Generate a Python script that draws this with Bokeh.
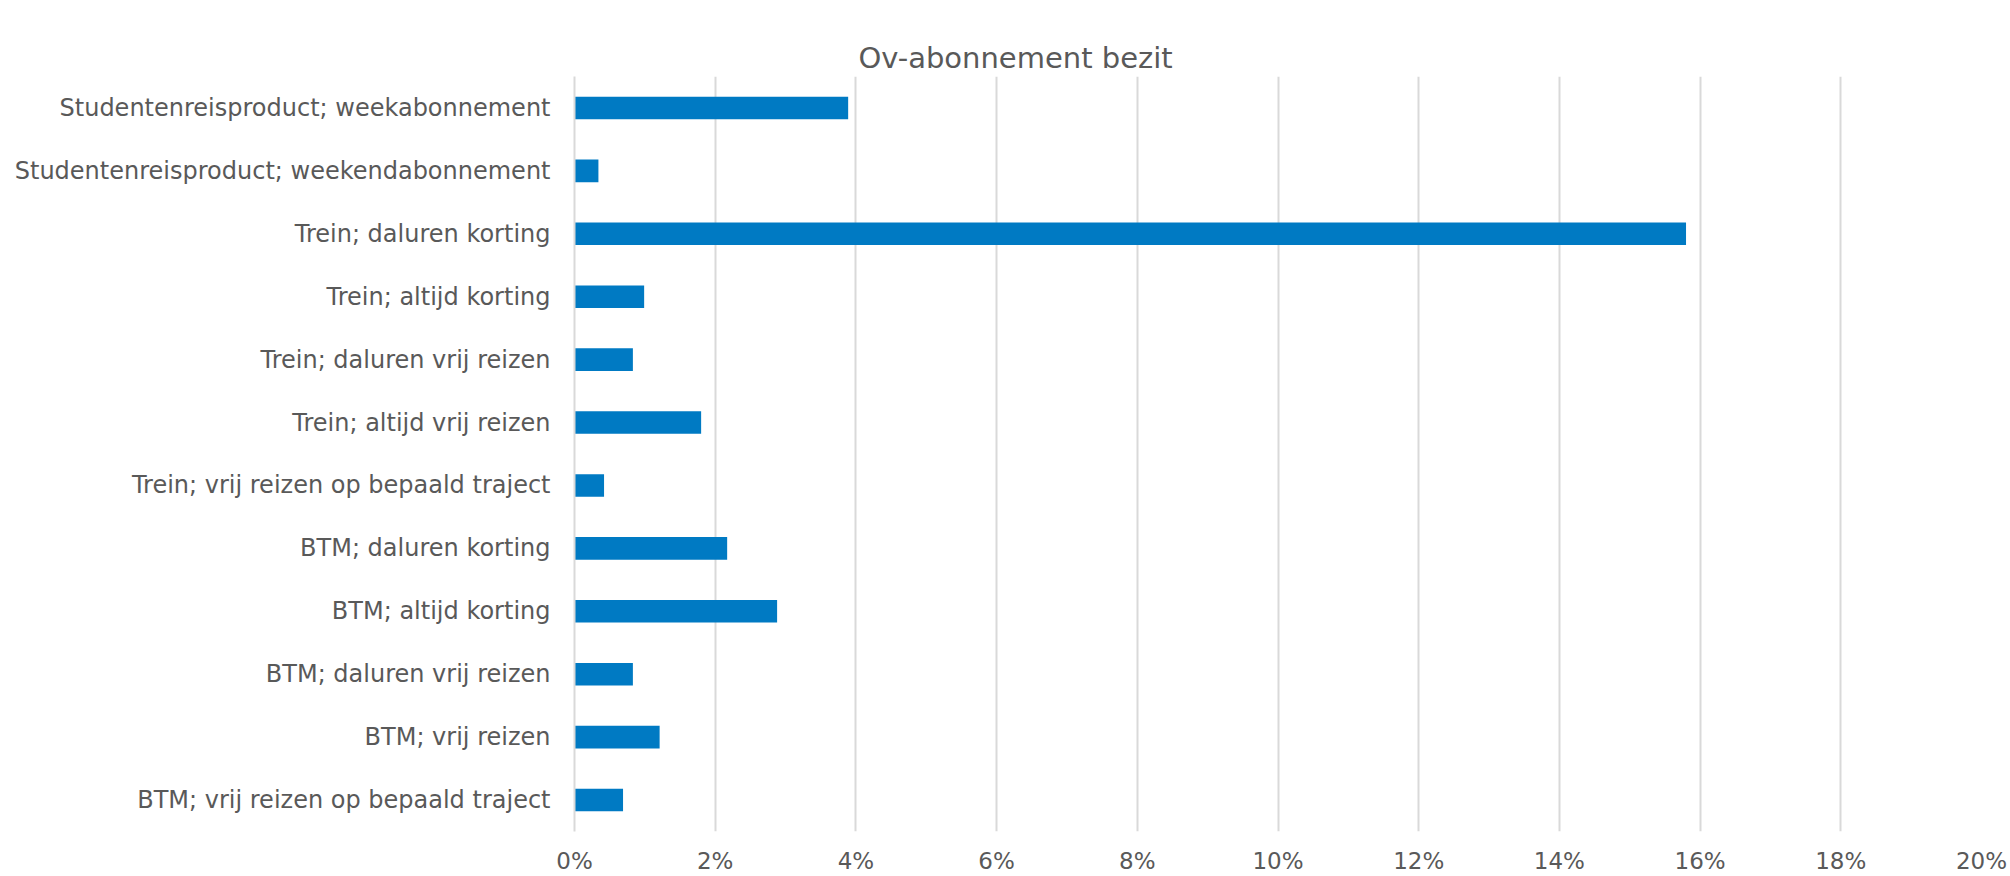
from bokeh.plotting import figure
from bokeh.models import Range1d, FixedTicker, PrintfTickFormatter, Title
from bokeh.embed import file_html
from bokeh.resources import INLINE

title_text = "Ov-abonnement bezit"
categories = [
    "Studentenreisproduct; weekabonnement",
    "Studentenreisproduct; weekendabonnement",
    "Trein; daluren korting",
    "Trein; altijd korting",
    "Trein; daluren vrij reizen",
    "Trein; altijd vrij reizen",
    "Trein; vrij reizen op bepaald traject",
    "BTM; daluren korting",
    "BTM; altijd korting",
    "BTM; daluren vrij reizen",
    "BTM; vrij reizen",
    "BTM; vrij reizen op bepaald traject",
]
values_pct = [3.89, 0.34, 15.80, 0.99, 0.83, 1.80, 0.42, 2.17, 2.88, 0.83, 1.21, 0.69]
x_ticks = [0, 2, 4, 6, 8, 10, 12, 14, 16, 18, 20]

FONT = "DejaVu Sans"
TEXT = "#595959"
GRID = "#d9d9d9"

p = figure(
    width=2010, height=876,
    y_range=list(reversed(categories)),
    x_range=Range1d(0, 20),
    output_backend="svg", toolbar_location=None,
    min_border_left=574, min_border_right=29,
    min_border_top=76, min_border_bottom=44,
)
p.hbar(y=categories, right=values_pct, left=0, height=0.36,
       fill_color="#007AC3", line_color=None)

main_title = Title(text=title_text, text_font=FONT, text_font_size="29px",
                   text_font_style="normal", text_color=TEXT,
                   align="left", offset=284, vertical_align="top", standoff=0)
p.add_layout(main_title, "above")

# invisible spacer panel between the title and the frame
spacer = Title(text=".", text_font_size="1px", text_alpha=0.0, standoff=27)
p.add_layout(spacer, "above")

p.outline_line_color = None
p.background_fill_color = "white"
p.border_fill_color = "white"

p.xgrid.ticker = FixedTicker(ticks=x_ticks)
p.xgrid.grid_line_color = GRID
p.xgrid.grid_line_width = 2
p.ygrid.grid_line_color = None

xa = p.xaxis[0]
xa.ticker = FixedTicker(ticks=x_ticks)
xa.formatter = PrintfTickFormatter(format="%d%%")
xa.axis_line_color = None
xa.major_tick_line_color = None
xa.minor_tick_line_color = None
xa.major_tick_out = 0
xa.major_tick_in = 0
xa.major_label_standoff = 16
xa.major_label_text_font = FONT
xa.major_label_text_font_size = "23px"
xa.major_label_text_color = TEXT

ya = p.yaxis[0]
ya.axis_line_color = GRID
ya.axis_line_width = 2
ya.major_tick_line_color = None
ya.minor_tick_line_color = None
ya.major_tick_out = 0
ya.major_tick_in = 0
ya.major_label_standoff = 24
ya.major_label_text_font = FONT
ya.major_label_text_font_size = "24px"
ya.major_label_text_color = TEXT

open("out.html", "w").write(file_html(p, INLINE))
